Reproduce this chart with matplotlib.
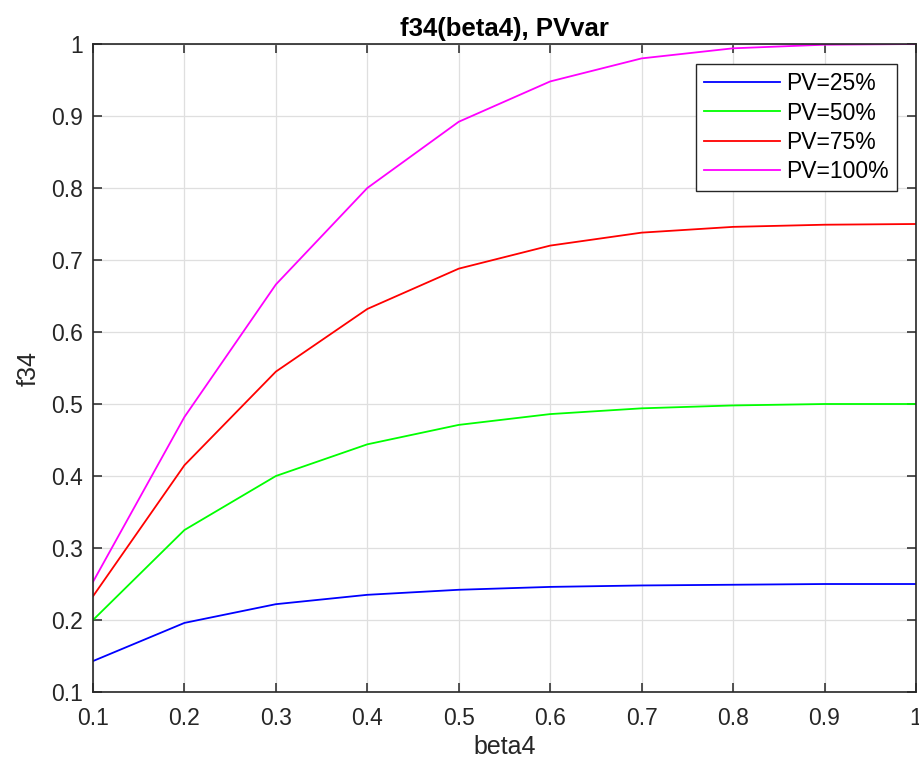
import numpy as np
import matplotlib
matplotlib.use("Agg")
import matplotlib.pyplot as plt

plt.rcParams['font.family'] = ['Liberation Sans', 'DejaVu Sans']

beta4 = [0.1, 0.2, 0.3, 0.4, 0.5, 0.6, 0.7, 0.8, 0.9, 1.0]
pv25 = [0.143, 0.196, 0.222, 0.235, 0.242, 0.246, 0.248, 0.249, 0.250, 0.250]
pv50 = [0.200, 0.325, 0.400, 0.444, 0.471, 0.486, 0.494, 0.498, 0.500, 0.500]
pv75 = [0.233, 0.415, 0.545, 0.632, 0.688, 0.720, 0.738, 0.746, 0.749, 0.750]
pv100 = [0.253, 0.482, 0.666, 0.800, 0.892, 0.948, 0.980, 0.994, 0.999, 1.000]
labels = ["PV=25%", "PV=50%", "PV=75%", "PV=100%"]
colors = ["#0000ff", "#00ff00", "#ff0000", "#ff00ff"]
ticks = ["0.1", "0.2", "0.3", "0.4", "0.5", "0.6", "0.7", "0.8", "0.9", "1"]

fig = plt.figure(figsize=(9.19, 7.69), dpi=100)
ax = fig.add_axes([0.1012, 0.1001, 0.8955, 0.8427])

for y, lab, c in zip([pv25, pv50, pv75, pv100], labels, colors):
    ax.plot(beta4, y, color=c, lw=1.3, label=lab)

ax.set_xlim(0.1, 1)
ax.set_ylim(0.1, 1)
ax.set_xticks(np.arange(0.1, 1.01, 0.1))
ax.set_yticks(np.arange(0.1, 1.01, 0.1))
ax.set_xticklabels(ticks)
ax.set_yticklabels(ticks)
ax.grid(True, color="#dfdfdf", lw=0.9)
ax.set_axisbelow(True)
ax.tick_params(direction="in", top=True, right=True, length=6.5, width=1.1,
               labelsize=16.5, colors="#262626")
ax.tick_params(axis="x", pad=11)
ax.tick_params(axis="y", pad=7.5)
for s in ax.spines.values():
    s.set_color("#262626")
    s.set_linewidth(1.2)

ax.set_title("f34(beta4), PVvar", fontsize=18.5, fontweight="bold", color="#000000", pad=6)
ax.set_xlabel("beta4", fontsize=18, color="#262626", labelpad=3.5)
ax.set_ylabel("f34", fontsize=18, color="#262626", labelpad=7)

leg = ax.legend(loc="upper right", bbox_to_anchor=(0.977, 0.969), borderaxespad=0,
                fontsize=16.5, fancybox=False, framealpha=1, edgecolor="#262626",
                handlelength=3.3, handletextpad=0.3, borderpad=0.35, labelspacing=0.28)
leg.get_frame().set_linewidth(1.0)
for t in leg.get_texts():
    t.set_color("#000000")

fig.savefig("out.png", dpi=100)
